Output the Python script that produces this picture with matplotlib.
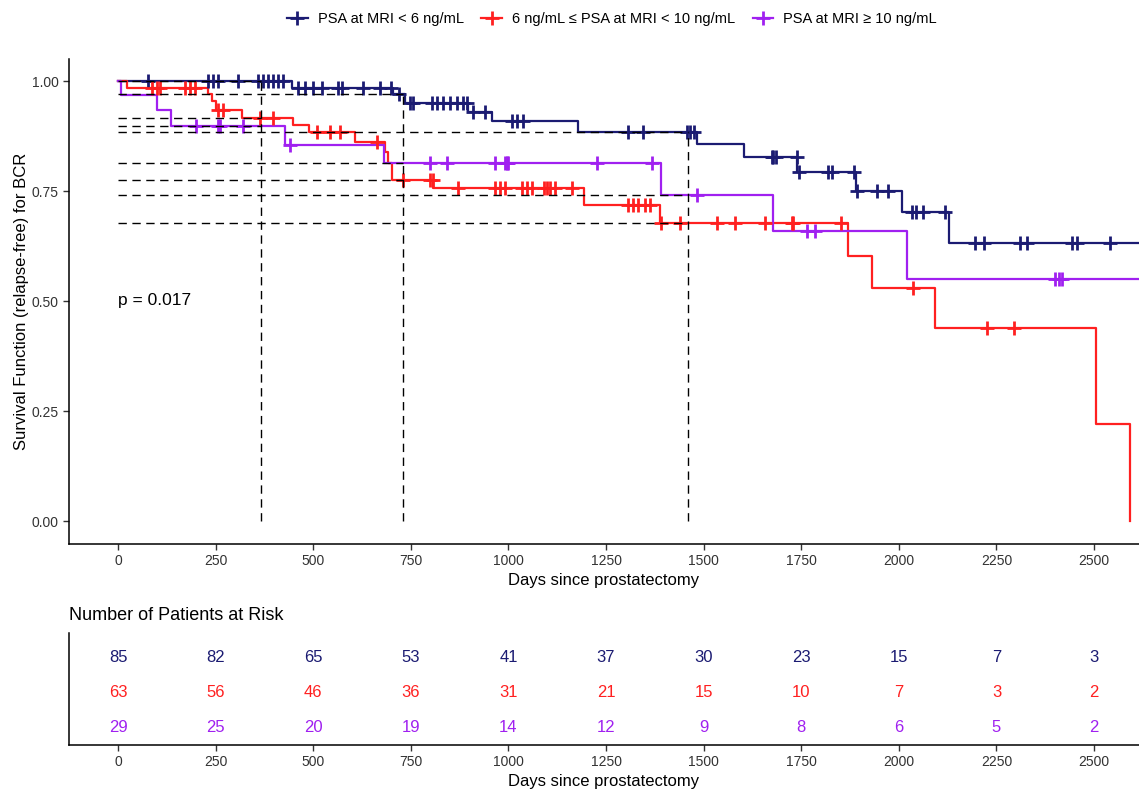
# -*- coding: utf-8 -*-

import matplotlib
matplotlib.use("Agg")
import matplotlib.pyplot as plt
import numpy as np
from matplotlib.lines import Line2D

plt.rcParams['font.family'] = ['Liberation Sans', 'DejaVu Sans']

# group labels and colours
labels = ['PSA at MRI < 6 ng/mL', '6 ng/mL \u2264 PSA at MRI < 10 ng/mL', 'PSA at MRI \u2265 10 ng/mL']
colors = ['#1b1b72', '#ff2020', '#a020f0']

# Kaplan-Meier steps (days, survival)
low_t = [0, 445, 705, 735, 897, 957, 1178, 1482, 1604, 1740, 1890, 2007, 2129]
low_s = [1.0, 0.985, 0.970, 0.951, 0.930, 0.909, 0.885, 0.857, 0.828, 0.794, 0.751, 0.702, 0.633]
low_end = 2700
low_cens = [78, 231, 244, 257, 307, 359, 372, 384, 397, 410, 423, 462, 479, 500, 522, 563, 573,
            628, 671, 700, 720, 748, 756, 803, 816, 833, 850, 868, 884, 893, 910, 940, 1008, 1021,
            1038, 1306, 1345, 1457, 1465, 1474, 1674, 1678, 1685, 1738, 1745, 1819, 1828, 1886,
            1893, 1943, 1973, 2033, 2045, 2063, 2118, 2195, 2217, 2310, 2328, 2443, 2456, 2541]

mid_t = [0, 22, 231, 240, 250, 317, 449, 488, 607, 684, 692, 701, 808, 1194, 1388, 1869, 1930,
         2093, 2505, 2591]
mid_s = [1.0, 0.985, 0.970, 0.954, 0.934, 0.915, 0.900, 0.883, 0.862, 0.839, 0.813, 0.776, 0.756,
         0.719, 0.678, 0.602, 0.530, 0.439, 0.220, 0.0]
mid_end = 2591
mid_cens = [86, 99, 107, 172, 184, 197, 256, 269, 364, 397, 509, 543, 568, 663, 731, 799, 807,
            872, 966, 979, 991, 1034, 1047, 1060, 1090, 1098, 1107, 1119, 1162, 1307, 1320, 1333,
            1350, 1362, 1392, 1440, 1533, 1580, 1657, 1726, 1730, 1853, 2035, 2225, 2296]

high_t = [0, 7, 99, 137, 428, 681, 1391, 1677, 2022]
high_s = [1.0, 0.968, 0.933, 0.898, 0.855, 0.813, 0.741, 0.659, 0.549]
high_end = 2700
high_cens = [201, 257, 261, 321, 441, 799, 842, 966, 991, 996, 1000, 1226, 1367, 1482, 1764,
             1785, 2400, 2410, 2417]

landmarks = [365, 730, 1460]
p_text = 'p = 0.017'

risk_times = [0, 250, 500, 750, 1000, 1250, 1500, 1750, 2000, 2250, 2500]
risk_low = [85, 82, 65, 53, 41, 37, 30, 23, 15, 7, 3]
risk_mid = [63, 56, 46, 36, 31, 21, 15, 10, 7, 3, 2]
risk_high = [29, 25, 20, 19, 14, 12, 9, 8, 6, 5, 2]

groups = [(low_t, low_s, low_end, low_cens), (mid_t, mid_s, mid_end, mid_cens),
          (high_t, high_s, high_end, high_cens)]
risks = [risk_low, risk_mid, risk_high]


def surv_at(t_list, s_list, t):
    i = np.searchsorted(np.array(t_list), t, side='right') - 1
    return np.array(s_list)[i]


W, H = 1139, 792
fig = plt.figure(figsize=(W / 100, H / 100), dpi=100)
xlim = (-125.5, 2615)
axcol = '#333333'
dash = (0, (6, 4))


def style_axis(ax):
    for s in ['top', 'right']:
        ax.spines[s].set_visible(False)
    for s in ['left', 'bottom']:
        ax.spines[s].set_linewidth(1.1)
        ax.spines[s].set_color('black')
    ax.tick_params(direction='out', length=4, width=1, color=axcol, labelcolor=axcol,
                   labelsize=10)


ax = fig.add_axes([69 / W, (H - 544) / H, (W - 69) / W, (544 - 59) / H])
for (t, s, end, cens), c in zip(groups, colors):
    tt = list(t) + [end]
    ss = list(s) + [s[-1]]
    ax.step(tt, ss, where='post', color=c, lw=1.6, zorder=3)
    cy = surv_at(t, s, np.array(cens))
    ax.plot(cens, cy, ls='none', marker='+', ms=10, mew=2.0, color=c, zorder=4)

# landmark dashed lines
for lm in landmarks:
    vals = [surv_at(t, s, lm) for (t, s, end, cens) in groups]
    for v in vals:
        ax.plot([0, lm], [v, v], ls=dash, color='black', lw=1.0, zorder=5)
    ax.plot([lm, lm], [0, max(vals)], ls=dash, color='black', lw=1.0, zorder=5)

ax.text(0, 0.502, p_text, fontsize=12.5, ha='left', va='center')
ax.set_xlim(*xlim)
ax.set_ylim(-0.052, 1.05)
ax.set_xticks(risk_times)
ax.set_yticks([0, 0.25, 0.5, 0.75, 1.0])
ax.set_yticklabels(['0.00', '0.25', '0.50', '0.75', '1.00'])
style_axis(ax)
ax.set_xlabel('Days since prostatectomy', fontsize=12, labelpad=3)
ax.set_ylabel('Survival Function (relapse-free) for BCR', fontsize=12, labelpad=2)

handles = [Line2D([0], [0], color=c, lw=1.6, marker='+', ms=10, mew=2.0) for c in colors]
fig.legend(handles, labels, loc='center', bbox_to_anchor=(612 / W, 1 - 19 / H), ncol=3,
           frameon=False, fontsize=10.5, handlelength=1.4, handletextpad=0.7, columnspacing=1.2,
           numpoints=1)

# risk table
axr = fig.add_axes([69 / W, (H - 745) / H, (W - 69) / W, (745 - 633) / H])
for row, (r, c) in enumerate(zip(risks, colors)):
    y = 3 - row
    for t, n in zip(risk_times, r):
        axr.text(t, y, str(n), color=c, fontsize=12, ha='center', va='center')
axr.set_xlim(*xlim)
axr.set_ylim(0.486, 3.686)
axr.set_xticks(risk_times)
axr.set_yticks([])
style_axis(axr)
axr.set_xlabel('Days since prostatectomy', fontsize=12, labelpad=3)
fig.text(69 / W, 1 - 616 / H, 'Number of Patients at Risk', fontsize=13, ha='left', va='center')

fig.savefig('out.png', dpi=100)
